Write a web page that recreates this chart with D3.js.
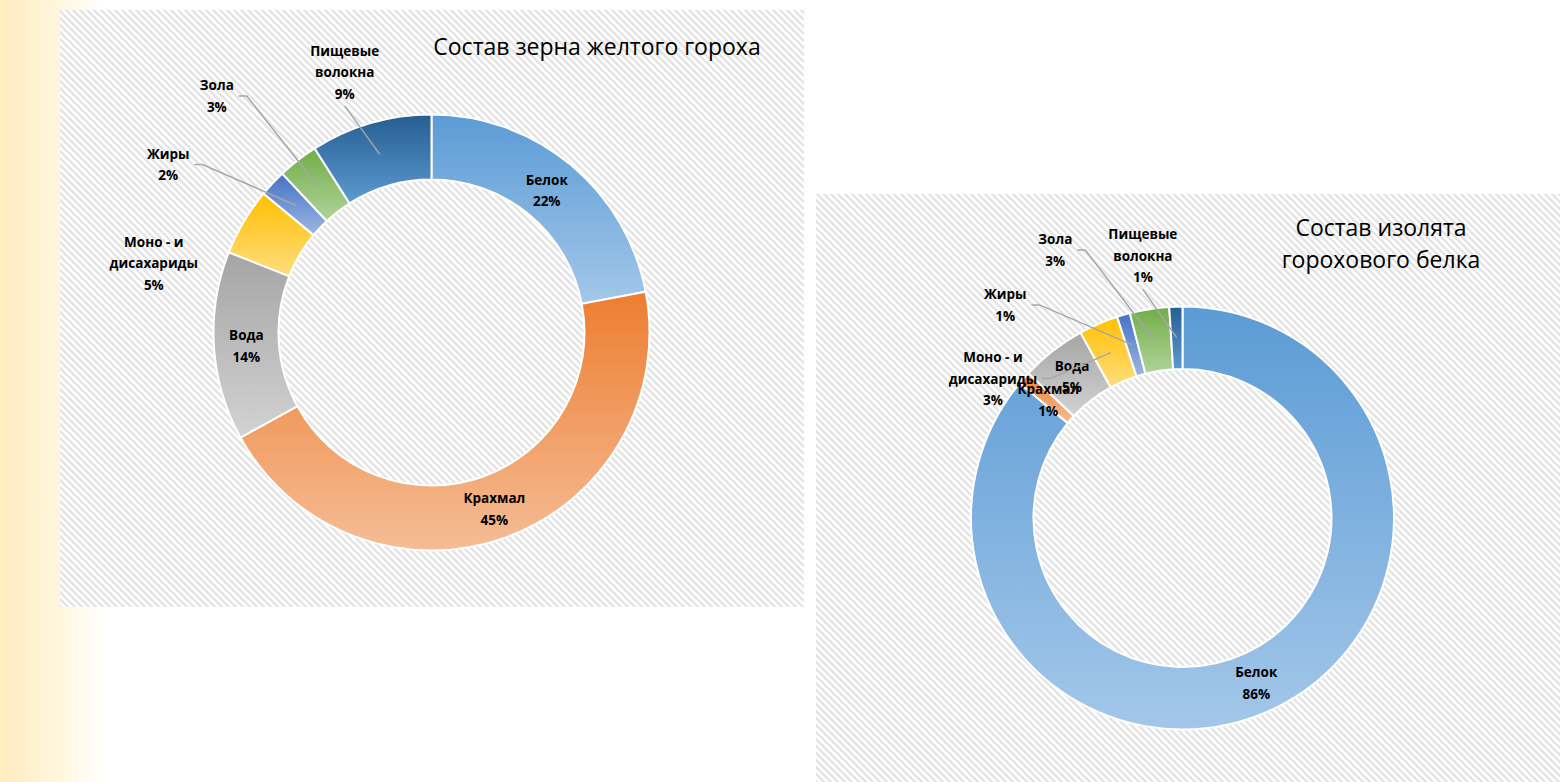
<!DOCTYPE html>
<html>
<head>
<meta charset="utf-8">
<script src="https://cdn.jsdelivr.net/npm/d3@7"></script>
<style>
  html, body { margin: 0; padding: 0; background: #fff; }
  svg { display: block; }
</style>
</head>
<body>
<script>
// Data
let categories = ["Белок", "Крахмал", "Вода", "Моно - и\nдисахариды", "Жиры", "Зола", "Пищевые\nволокна"];
let grainValues = [22, 45, 14, 5, 2, 3, 9];
let isolateValues = [86, 1, 5, 3, 1, 3, 1];
let titles = [["Состав зерна желтого гороха"], ["Состав изолята", "горохового белка"]];

// colours: top / bottom of each slice gradient
let topColors = ["#5b9bd5", "#ed7d31", "#a5a5a5", "#ffc000", "#4472c4", "#70ad47", "#255e91"];
let bottomColors = ["#a3c7e9", "#f5bd96", "#d2d2d2", "#ffdd7e", "#9db6e2", "#b0d39a", "#5d9ad2"];

// label layout (shift from slice centroid) and leader lines
let grainNudge = [[-3, 1], [0, 2], [0, 2], [-118, 25], [-128, -41], [-101, -90], [-35, -82]];
let isolateNudge = [[-3, 2], [1, 1], [0, 1], [-118, 26], [-127, -40], [-99, -90], [-34, -82]];
let grainLeader = [false, false, false, false, true, true, true];
let isolateLeader = [false, false, false, true, true, true, true];

let width = 1564;
let height = 782;

let svg = d3.select("body").append("svg").attr("width", width).attr("height", height);
let defs = svg.append("defs");

// left yellow strip of the slide
let strip = defs.append("linearGradient").attr("id", "strip").attr("x1", 0).attr("x2", 1).attr("y1", 0).attr("y2", 0);
strip.append("stop").attr("offset", "0%").attr("stop-color", "#ffecc0");
strip.append("stop").attr("offset", "55%").attr("stop-color", "#fff6dd");
strip.append("stop").attr("offset", "100%").attr("stop-color", "#ffffff");
svg.append("rect").attr("x", 0).attr("y", 0).attr("width", 106).attr("height", height).attr("fill", "url(#strip)");

// hatch pattern for chart areas
let hatch = defs.append("pattern").attr("id", "hatch").attr("patternUnits", "userSpaceOnUse")
  .attr("width", 7).attr("height", 7);
hatch.append("rect").attr("width", 7).attr("height", 7).attr("fill", "#ffffff");
hatch.append("path").attr("d", "M-1,-1 L8,8 M-4,3 L4,11 M3,-4 L11,4")
  .attr("stroke", "#e4e4e4").attr("stroke-width", 2.4);

let fmt = d3.format(".0%");

function drawDonut(cfg) {
  let g = svg.append("g");

  g.append("rect").attr("x", cfg.box[0]).attr("y", cfg.box[1])
    .attr("width", cfg.box[2]).attr("height", cfg.box[3]).attr("fill", "url(#hatch)");

  // gradients per slice
  categories.forEach((c, i) => {
    let lg = defs.append("linearGradient").attr("id", cfg.id + "-g" + i)
      .attr("x1", 0).attr("y1", 0).attr("x2", 0).attr("y2", 1);
    lg.append("stop").attr("offset", "0%").attr("stop-color", topColors[i]);
    lg.append("stop").attr("offset", "100%").attr("stop-color", bottomColors[i]);
  });

  let total = d3.sum(cfg.values);
  let pie = d3.pie().sort(null).value((d) => d);
  let arcs = pie(cfg.values);
  let arc = d3.arc().innerRadius(cfg.inner).outerRadius(cfg.outer);
  let mid = d3.arc().innerRadius((cfg.inner + cfg.outer) / 2).outerRadius((cfg.inner + cfg.outer) / 2);

  let chart = g.append("g").attr("transform", `translate(${cfg.cx}, ${cfg.cy})`);

  chart.selectAll("path.slice")
    .data(arcs)
    .join("path")
    .attr("class", "slice")
    .attr("d", arc)
    .attr("fill", (d, i) => `url(#${cfg.id}-g${i})`)
    .attr("stroke", "#ffffff")
    .attr("stroke-width", 2);

  // title
  let t = g.append("text")
    .attr("x", cfg.titlePos[0])
    .attr("y", cfg.titlePos[1])
    .attr("text-anchor", "middle")
    .style("font-family", "'Open Sans', sans-serif")
    .style("font-size", "23px")
    .attr("fill", "#000");
  cfg.title.forEach((line, k) => {
    t.append("tspan").attr("x", cfg.titlePos[0]).attr("dy", k === 0 ? 0 : 32).text(line);
  });

  let lineH = 21.5;

  arcs.forEach((d, i) => {
    let c = mid.centroid(d);
    let lx = c[0] + cfg.nudge[i][0];
    let ly = c[1] + cfg.nudge[i][1];
    let lines = categories[i].split("\n").concat([fmt(d.value / total)]);

    let label = chart.append("text")
      .attr("text-anchor", "middle")
      .style("font-family", "'Open Sans', sans-serif")
      .style("font-weight", "bold")
      .style("font-size", "13.5px")
      .attr("fill", "#000");
    lines.forEach((line, k) => {
      label.append("tspan")
        .attr("x", lx)
        .attr("y", ly + (k - (lines.length - 1) / 2) * lineH)
        .attr("dominant-baseline", "central")
        .text(line);
    });

    if (cfg.leader[i]) {
      let bb = label.node().getBBox();
      let pts;
      if (cfg.nudge[i][0] < -60) {
        let sx = bb.x + bb.width + 5;
        pts = [[sx, ly], [sx + 8, ly], c];
      } else {
        pts = [[lx, bb.y + bb.height + 3], c];
      }
      chart.append("path")
        .attr("d", d3.line()(pts))
        .attr("fill", "none")
        .attr("stroke", "#a6a6a6")
        .attr("stroke-width", 1.5);
    }
  });
}

drawDonut({
  id: "grain",
  values: grainValues,
  box: [60, 10, 744, 597],
  cx: 431.5, cy: 332.5, outer: 218, inner: 153,
  title: titles[0], titlePos: [597, 55],
  nudge: grainNudge, leader: grainLeader,
});

drawDonut({
  id: "isolate",
  values: isolateValues,
  box: [816, 194, 744, 588],
  cx: 1182.5, cy: 518, outer: 211.5, inner: 149,
  title: titles[1], titlePos: [1381, 236],
  nudge: isolateNudge, leader: isolateLeader,
});
</script>
</body>
</html>
